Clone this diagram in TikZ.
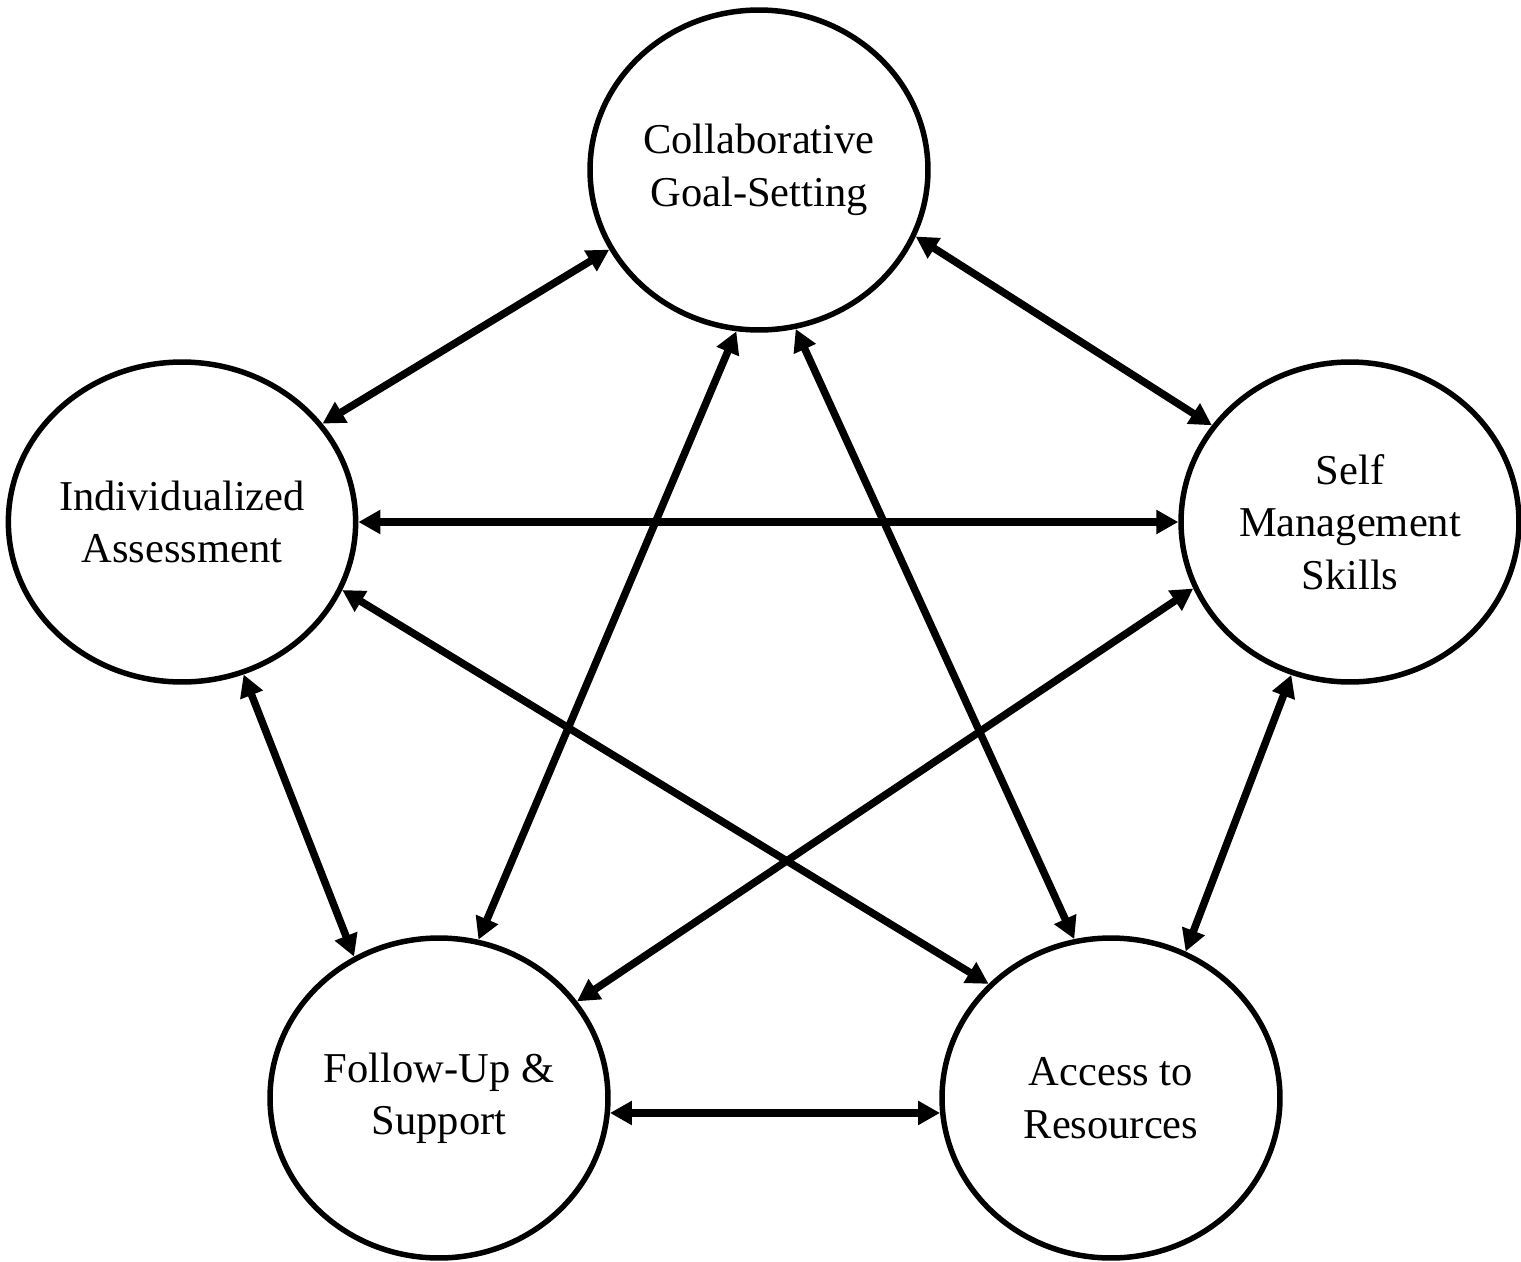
\documentclass[tikz,border=0pt]{standalone}
\usepackage{fontspec}
\setmainfont{Liberation Serif}
\usetikzlibrary{shapes.geometric, arrows.meta}

\begin{document}
\begin{tikzpicture}[
    x=0.02cm, y=-0.02cm,
    >={Triangle[length=0.44cm, width=0.46cm]},
    stage/.style = {
      ellipse, draw=black, line width=0.11cm, fill=white,
      minimum width=6.76cm, minimum height=6.4cm, inner sep=0pt,
      align=center, font=\fontsize{24.2}{29.8}\selectfont
    },
    arr/.style = {<->, line width=0.15cm},
  ]
    \useasboundingbox (0,0) rectangle (1521,1261);

    % Five stages
    \node[stage] (goal)   at (759,170)   {Collaborative\\Goal-Setting};
    \node[stage] (assess) at (182,522)   {Individualized\\Assessment};
    \node[stage] (self)   at (1350,522)  {Self\\Management\\Skills};
    \node[stage] (follow) at (439,1098)  {Follow-Up \&\\Support};
    \node[stage] (access) at (1111,1098) {Access to\\Resources};

    % Outer ring
    \draw[arr] (goal.208)   -- (assess.35);
    \draw[arr] (goal.337)   -- (self.145);
    \draw[arr] (assess.292) -- (follow.121.5);
    \draw[arr] (self.249.5) -- (access.63.7);
    \draw[arr] (follow.355) -- (access.185);

    % Inner star
    \draw[arr] (assess.east)  -- (self.west);
    \draw[arr] (goal.262)     -- (follow.76.3);
    \draw[arr] (goal.283.5)   -- (access.103.6);
    \draw[arr] (assess.337)   -- (access.137.4);
    \draw[arr] (self.203)     -- (follow.35.2);
  \end{tikzpicture}
\end{document}
